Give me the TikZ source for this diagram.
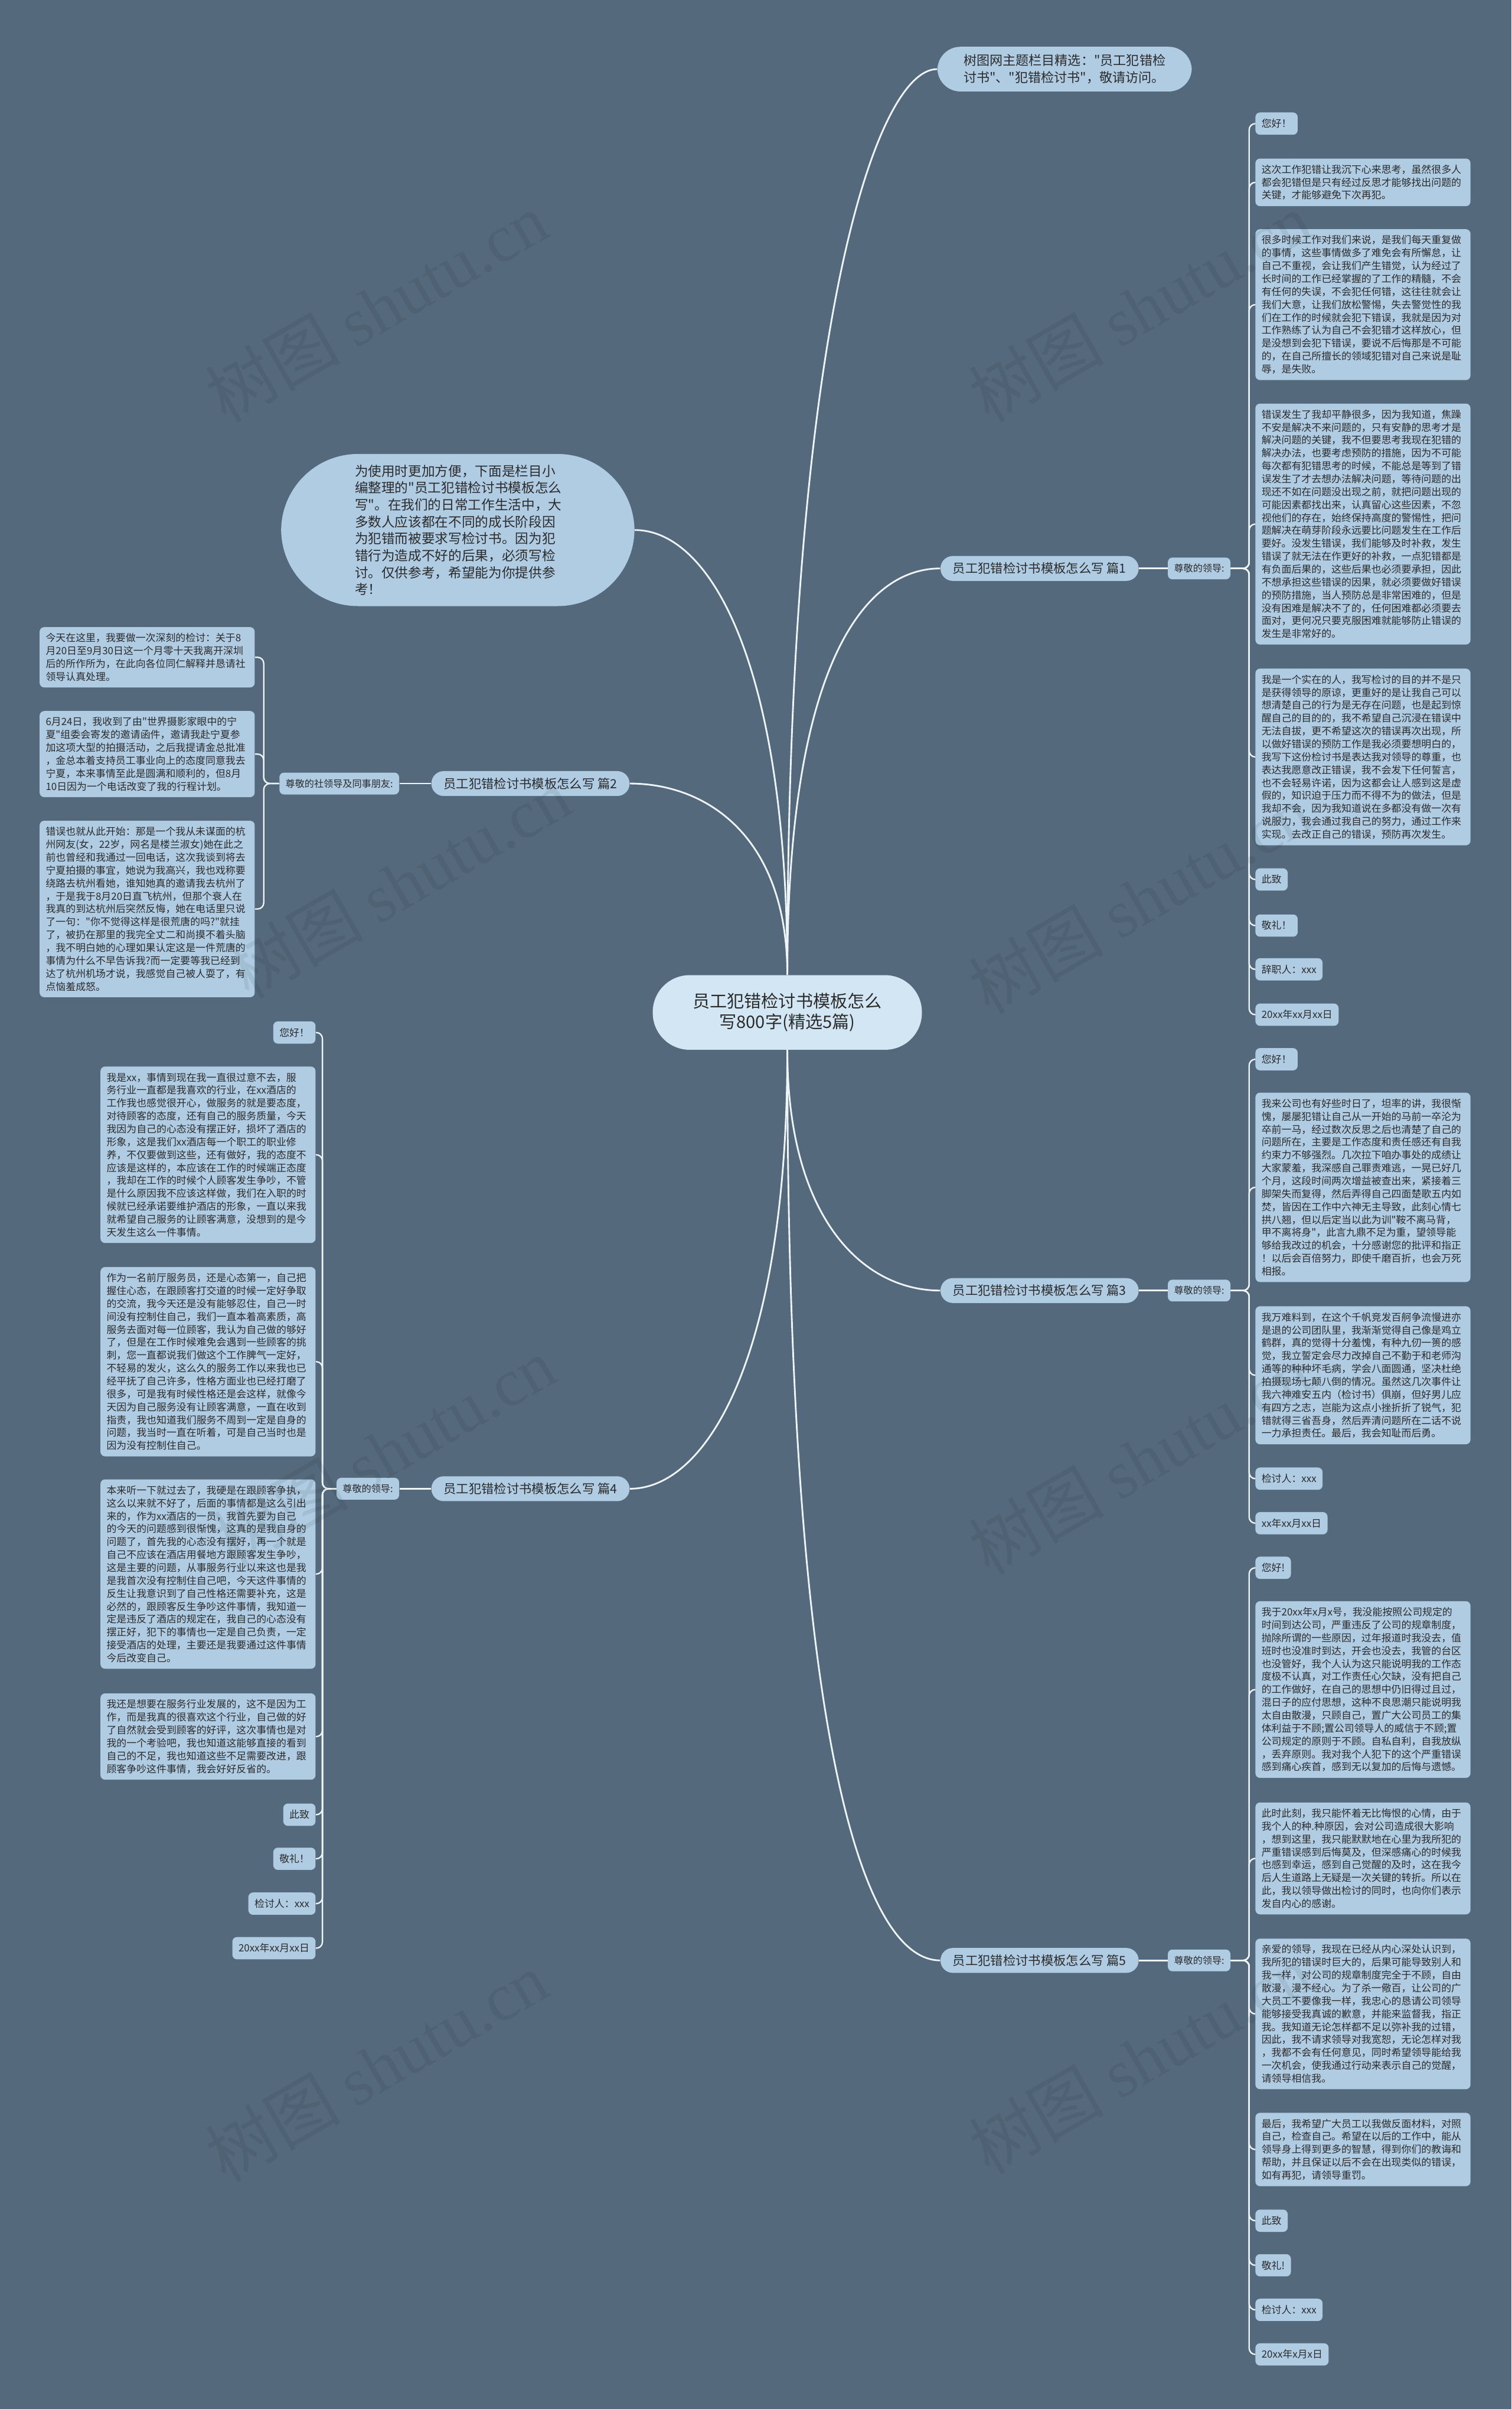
\documentclass[tikz,border=0pt]{standalone}
\usepackage{fontspec}
\newfontfamily\zh{Noto Sans CJK SC}
\newfontfamily\wmlatin{Liberation Serif}

\definecolor{bgc}{HTML}{54697B}
\definecolor{leafc}{HTML}{AFCCE3}
\definecolor{rootc}{HTML}{D2E7F3}
\definecolor{linec}{HTML}{EEF4F8}
\definecolor{inkc}{HTML}{2B2B2B}
\definecolor{wmc}{HTML}{1A2630}

\tikzset{
  trunk/.style={draw=linec, line width=1.1pt},
  spine/.style={draw=linec, line width=0.9pt, rounded corners=4pt},
  leaf/.style={fill=leafc, rounded corners=3pt, text=inkc,
    font=\zh\fontsize{6.5}{8.4}\selectfont, inner xsep=4pt, inner ysep=4pt,
    text width=132pt, align=left},
  tag/.style={fill=leafc, rounded corners=3pt, text=inkc,
    font=\zh\fontsize{6.5}{8.4}\selectfont, inner xsep=4pt, inner ysep=4pt,
    text height=5.7pt, text depth=0.8pt},
  lead/.style={fill=leafc, rounded corners=3pt, text=inkc,
    font=\zh\fontsize{6.2}{7.5}\selectfont, inner sep=4pt,
    text height=5.4pt, text depth=0.8pt},
  part/.style={fill=leafc, rounded corners=8pt, text=inkc,
    font=\zh\fontsize{8.2}{10}\selectfont, inner xsep=8pt, inner ysep=4pt,
    text height=7.2pt, text depth=1pt},
  wmark/.style={text=wmc, text opacity=0.09, rotate=30,
    font=\zh\fontsize{44}{44}\selectfont}
}

\begin{document}
\begin{tikzpicture}[x=1pt,y=-1pt]

  \useasboundingbox (0,0) rectangle (984,1568);
  \fill[bgc] (0,0) rectangle (984,1568);

  % centre, top note and intro
  \node[fill=rootc, rounded corners=24pt, text=inkc, align=center,
    font=\zh\fontsize{11.2}{13.5}\selectfont, inner xsep=26pt, inner ysep=11.7pt]
    at (512.5,659) (root) {员工犯错检讨书模板怎么\\写800字(精选5篇)};
  \node[fill=leafc, rounded corners=15pt, text=inkc, align=left,
    font=\zh\fontsize{8.5}{11}\selectfont, inner xsep=17pt, inner ysep=5pt, anchor=west]
    at (610,45) (tip) {树图网主题栏目精选："员工犯错检\\讨书"、"犯错检讨书"，敬请访问。};
  \node[fill=leafc, rounded corners=50pt, text=inkc, align=left, text width=134pt,
    font=\zh\fontsize{8.7}{11}\selectfont, inner xsep=48pt, inner ysep=7pt]
    at (298,345) (intro) {为使用时更加方便，下面是栏目小\\
      编整理的"员工犯错检讨书模板怎么\\
      写"。在我们的日常工作生活中，大\\
      多数人应该都在不同的成长阶段因\\
      为犯错而被要求写检讨书。因为犯\\
      错行为造成不好的后果，必须写检\\
      讨。仅供参考，希望能为你提供参\\
      考！};

  % branches
  \node[part, anchor=west] at (612,370) (b1) {员工犯错检讨书模板怎么写 篇1};
  \node[part, anchor=east] at (410,510) (b2) {员工犯错检讨书模板怎么写 篇2};
  \node[part, anchor=west] at (612,840) (b3) {员工犯错检讨书模板怎么写 篇3};
  \node[part, anchor=east] at (410,969) (b4) {员工犯错检讨书模板怎么写 篇4};
  \node[part, anchor=west] at (612,1276) (b5) {员工犯错检讨书模板怎么写 篇5};

  \node[lead, anchor=west] at (760,370) (d1) {尊敬的领导:};
  \node[lead, anchor=east] at (260,510) (d2) {尊敬的社领导及同事朋友:};
  \node[lead, anchor=west] at (760,840) (d3) {尊敬的领导:};
  \node[lead, anchor=east] at (260,969) (d4) {尊敬的领导:};
  \node[lead, anchor=west] at (760,1276) (d5) {尊敬的领导:};

  \draw[trunk] (root.north) .. controls +(0,-420) and +(-40,0) .. (tip.west);
  \draw[trunk] (root.north) .. controls +(0,-200) and +(50,0) .. (intro.east);
  \draw[trunk] (root.north) .. controls +(0,-200) and +(-50,0) .. (b1.west);
  \draw[trunk] (root.north) .. controls +(0,-90) and +(50,0) .. (b2.east);
  \draw[trunk] (root.south) .. controls +(0,110) and +(-50,0) .. (b3.west);
  \draw[trunk] (root.south) .. controls +(0,200) and +(50,0) .. (b4.east);
  \draw[trunk] (root.south) .. controls +(0,450) and +(-50,0) .. (b5.west);

  \draw[trunk] (b1.east) -- (d1.west);
  \draw[trunk] (b2.west) -- (d2.east);
  \draw[trunk] (b3.east) -- (d3.west);
  \draw[trunk] (b4.west) -- (d4.east);
  \draw[trunk] (b5.east) -- (d5.west);

  % 篇1
  \node[tag, anchor=north west] at (817,73) (l11) {您好！};
  \node[leaf, anchor=north west] at (817,103) (l12) {这次工作犯错让我沉下心来思考，虽然很多人\\
    都会犯错但是只有经过反思才能够找出问题的\\
    关键，才能够避免下次再犯。};
  \node[leaf, anchor=north west] at (817,149) (l13) {很多时候工作对我们来说，是我们每天重复做\\
    的事情，这些事情做多了难免会有所懈怠，让\\
    自己不重视，会让我们产生错觉，认为经过了\\
    长时间的工作已经掌握的了工作的精髓，不会\\
    有任何的失误，不会犯任何错，这往往就会让\\
    我们大意，让我们放松警惕，失去警觉性的我\\
    们在工作的时候就会犯下错误，我就是因为对\\
    工作熟练了认为自己不会犯错才这样放心，但\\
    是没想到会犯下错误，要说不后悔那是不可能\\
    的，在自己所擅长的领域犯错对自己来说是耻\\
    辱，是失败。};
  \node[leaf, anchor=north west] at (817,262.5) (l14) {错误发生了我却平静很多，因为我知道，焦躁\\
    不安是解决不来问题的，只有安静的思考才是\\
    解决问题的关键，我不但要思考我现在犯错的\\
    解决办法，也要考虑预防的措施，因为不可能\\
    每次都有犯错思考的时候，不能总是等到了错\\
    误发生了才去想办法解决问题，等待问题的出\\
    现还不如在问题没出现之前，就把问题出现的\\
    可能因素都找出来，认真留心这些因素，不忽\\
    视他们的存在，始终保持高度的警惕性，把问\\
    题解决在萌芽阶段永远要比问题发生在工作后\\
    要好。没发生错误，我们能够及时补救，发生\\
    错误了就无法在作更好的补救，一点犯错都是\\
    有负面后果的，这些后果也必须要承担，因此\\
    不想承担这些错误的因果，就必须要做好错误\\
    的预防措施，当人预防总是非常困难的，但是\\
    没有困难是解决不了的，任何困难都必须要去\\
    面对，更何况只要克服困难就能够防止错误的\\
    发生是非常好的。};
  \node[leaf, anchor=north west] at (817,435) (l15) {我是一个实在的人，我写检讨的目的并不是只\\
    是获得领导的原谅，更重好的是让我自己可以\\
    想清楚自己的行为是无存在问题，也是起到惊\\
    醒自己的目的的，我不希望自己沉浸在错误中\\
    无法自拔，更不希望这次的错误再次出现，所\\
    以做好错误的预防工作是我必须要想明白的，\\
    我写下这份检讨书是表达我对领导的尊重，也\\
    表达我愿意改正错误，我不会发下任何誓言，\\
    也不会轻易许诺，因为这都会让人感到这是虚\\
    假的，知识迫于压力而不得不为的做法，但是\\
    我却不会，因为我知道说在多都没有做一次有\\
    说服力，我会通过我自己的努力，通过工作来\\
    实现。去改正自己的错误，预防再次发生。};
  \node[tag, anchor=north west] at (817,565) (l16) {此致};
  \node[tag, anchor=north west] at (817,595) (l17) {敬礼！};
  \node[tag, anchor=north west] at (817,623.5) (l18) {辞职人：xxx};
  \node[tag, anchor=north west] at (817,653) (l19) {20xx年xx月xx日};

  \draw[spine] (d1.east) -- ++(12,0) |- (l11.west);
  \draw[spine] (d1.east) -- ++(12,0) |- (l12.west);
  \draw[spine] (d1.east) -- ++(12,0) |- (l13.west);
  \draw[spine] (d1.east) -- ++(12,0) |- (l14.west);
  \draw[spine] (d1.east) -- ++(12,0) |- (l15.west);
  \draw[spine] (d1.east) -- ++(12,0) |- (l16.west);
  \draw[spine] (d1.east) -- ++(12,0) |- (l17.west);
  \draw[spine] (d1.east) -- ++(12,0) |- (l18.west);
  \draw[spine] (d1.east) -- ++(12,0) |- (l19.west);

  % 篇2
  \node[leaf, anchor=north east] at (166,408) (l21) {今天在这里，我要做一次深刻的检讨：关于8\\
    月20日至9月30日这一个月零十天我离开深圳\\
    后的所作所为，在此向各位同仁解释并恳请社\\
    领导认真处理。};
  \node[leaf, anchor=north east] at (166,462.6) (l22) {6月24日，我收到了由"世界摄影家眼中的宁\\
    夏"组委会寄发的邀请函件，邀请我赴宁夏参\\
    加这项大型的拍摄活动，之后我提请金总批准\\
    ，金总本着支持员工事业向上的态度同意我去\\
    宁夏，本来事情至此是圆满和顺利的，但8月\\
    10日因为一个电话改变了我的行程计划。};
  \node[leaf, anchor=north east] at (166,534) (l23) {错误也就从此开始：那是一个我从未谋面的杭\\
    州网友(女，22岁，网名是楼兰淑女)她在此之\\
    前也曾经和我通过一回电话，这次我谈到将去\\
    宁夏拍摄的事宜，她说为我高兴，我也戏称要\\
    绕路去杭州看她，谁知她真的邀请我去杭州了\\
    ，于是我于8月20日直飞杭州，但那个衰人在\\
    我真的到达杭州后突然反悔，她在电话里只说\\
    了一句："你不觉得这样是很荒唐的吗?"就挂\\
    了，被扔在那里的我完全丈二和尚摸不着头脑\\
    ，我不明白她的心理如果认定这是一件荒唐的\\
    事情为什么不早告诉我?而一定要等我已经到\\
    达了杭州机场才说，我感觉自己被人耍了，有\\
    点恼羞成怒。};

  \draw[spine] (d2.west) -- ++(-10,0) |- (l21.east);
  \draw[spine] (d2.west) -- ++(-10,0) |- (l22.east);
  \draw[spine] (d2.west) -- ++(-10,0) |- (l23.east);

  % 篇3
  \node[tag, anchor=north west] at (817,682) (l31) {您好！};
  \node[leaf, anchor=north west] at (817,711) (l32) {我来公司也有好些时日了，坦率的讲，我很惭\\
    愧，屡屡犯错让自己从一开始的马前一卒沦为\\
    卒前一马，经过数次反思之后也清楚了自己的\\
    问题所在，主要是工作态度和责任感还有自我\\
    约束力不够强烈。几次拉下咱办事处的成绩让\\
    大家蒙羞，我深感自己罪责难逃，一晃已好几\\
    个月，这段时间两次增益被查出来，紧接着三\\
    脚架失而复得，然后弄得自己四面楚歌五内如\\
    焚，皆因在工作中六神无主导致，此刻心情七\\
    拱八翘，但以后定当以此为训"鞍不离马背，\\
    甲不离将身"，此言九鼎不足为重，望领导能\\
    够给我改过的机会，十分感谢您的批评和指正\\
    ！以后会百倍努力，即使千磨百折，也会万死\\
    相报。};
  \node[leaf, anchor=north west] at (817,850) (l33) {我万难料到，在这个千帆竞发百舸争流慢进亦\\
    是退的公司团队里，我渐渐觉得自己像是鸡立\\
    鹤群，真的觉得十分羞愧，有种九仞一篑的感\\
    觉，我立誓定会尽力改掉自己不勤于和老师沟\\
    通等的种种坏毛病，学会八面圆通，坚决杜绝\\
    拍摄现场七颠八倒的情况。虽然这几次事件让\\
    我六神难安五内（检讨书）俱崩，但好男儿应\\
    有四方之志，岂能为这点小挫折折了锐气，犯\\
    错就得三省吾身，然后弄清问题所在二话不说\\
    一力承担责任。最后，我会知耻而后勇。};
  \node[tag, anchor=north west] at (817,955) (l34) {检讨人：xxx};
  \node[tag, anchor=north west] at (817,984) (l35) {xx年xx月xx日};

  \draw[spine] (d3.east) -- ++(12,0) |- (l31.west);
  \draw[spine] (d3.east) -- ++(12,0) |- (l32.west);
  \draw[spine] (d3.east) -- ++(12,0) |- (l33.west);
  \draw[spine] (d3.east) -- ++(12,0) |- (l34.west);
  \draw[spine] (d3.east) -- ++(12,0) |- (l35.west);

  % 篇4
  \node[tag, anchor=north east] at (205.6,664.6) (l41) {您好！};
  \node[leaf, anchor=north east] at (205.6,694) (l42) {我是xx，事情到现在我一直很过意不去，服\\
    务行业一直都是我喜欢的行业，在xx酒店的\\
    工作我也感觉很开心，做服务的就是要态度，\\
    对待顾客的态度，还有自己的服务质量，今天\\
    我因为自己的心态没有摆正好，损坏了酒店的\\
    形象，这是我们xx酒店每一个职工的职业修\\
    养，不仅要做到这些，还有做好，我的态度不\\
    应该是这样的，本应该在工作的时候端正态度\\
    ，我却在工作的时候个人顾客发生争吵，不管\\
    是什么原因我不应该这样做，我们在入职的时\\
    候就已经承诺要维护酒店的形象，一直以来我\\
    就希望自己服务的让顾客满意，没想到的是今\\
    天发生这么一件事情。};
  \node[leaf, anchor=north east] at (205.6,824.5) (l43) {作为一名前厅服务员，还是心态第一，自己把\\
    握住心态，在跟顾客打交道的时候一定好争取\\
    的交流，我今天还是没有能够忍住，自己一时\\
    间没有控制住自己，我们一直本着高素质，高\\
    服务去面对每一位顾客，我认为自己做的够好\\
    了，但是在工作时候难免会遇到一些顾客的挑\\
    刺，您一直都说我们做这个工作脾气一定好，\\
    不轻易的发火，这么久的服务工作以来我也已\\
    经平抚了自己许多，性格方面业也已经打磨了\\
    很多，可是我有时候性格还是会这样，就像今\\
    天因为自己服务没有让顾客满意，一直在收到\\
    指责，我也知道我们服务不周到一定是自身的\\
    问题，我当时一直在听着，可是自己当时也是\\
    因为没有控制住自己。};
  \node[leaf, anchor=north east] at (205.6,962.7) (l44) {本来听一下就过去了，我硬是在跟顾客争执，\\
    这么以来就不好了，后面的事情都是这么引出\\
    来的，作为xx酒店的一员，我首先要为自己\\
    的今天的问题感到很惭愧，这真的是我自身的\\
    问题了，首先我的心态没有摆好，再一个就是\\
    自己不应该在酒店用餐地方跟顾客发生争吵，\\
    这是主要的问题，从事服务行业以来这也是我\\
    是我首次没有控制住自己吧，今天这件事情的\\
    反生让我意识到了自己性格还需要补充，这是\\
    必然的，跟顾客反生争吵这件事情，我知道一\\
    定是违反了酒店的规定在，我自己的心态没有\\
    摆正好，犯下的事情也一定是自己负责，一定\\
    接受酒店的处理，主要还是我要通过这件事情\\
    今后改变自己。};
  \node[leaf, anchor=north east] at (205.6,1102) (l45) {我还是想要在服务行业发展的，这不是因为工\\
    作，而是我真的很喜欢这个行业，自己做的好\\
    了自然就会受到顾客的好评，这次事情也是对\\
    我的一个考验吧，我也知道这能够直接的看到\\
    自己的不足，我也知道这些不足需要改进，跟\\
    顾客争吵这件事情，我会好好反省的。};
  \node[tag, anchor=north east] at (205.6,1173.7) (l46) {此致};
  \node[tag, anchor=north east] at (205.6,1202.4) (l47) {敬礼！};
  \node[tag, anchor=north east] at (205.6,1231.6) (l48) {检讨人：xxx};
  \node[tag, anchor=north east] at (205.6,1260.6) (l49) {20xx年xx月xx日};

  \draw[spine] (d4.west) -- ++(-9,0) |- (l41.east);
  \draw[spine] (d4.west) -- ++(-9,0) |- (l42.east);
  \draw[spine] (d4.west) -- ++(-9,0) |- (l43.east);
  \draw[spine] (d4.west) -- ++(-9,0) |- (l44.east);
  \draw[spine] (d4.west) -- ++(-9,0) |- (l45.east);
  \draw[spine] (d4.west) -- ++(-9,0) |- (l46.east);
  \draw[spine] (d4.west) -- ++(-9,0) |- (l47.east);
  \draw[spine] (d4.west) -- ++(-9,0) |- (l48.east);
  \draw[spine] (d4.west) -- ++(-9,0) |- (l49.east);

  % 篇5
  \node[tag, anchor=north west] at (817,1013) (l51) {您好!};
  \node[leaf, anchor=north west] at (817,1042) (l52) {我于20xx年x月x号，我没能按照公司规定的\\
    时间到达公司，严重违反了公司的规章制度，\\
    抛除所谓的一些原因，过年报道时我没去，值\\
    班时也没准时到达，开会也没去，我管的台区\\
    也没管好，我个人认为这只能说明我的工作态\\
    度极不认真，对工作责任心欠缺，没有把自己\\
    的工作做好，在自己的思想中仍旧得过且过，\\
    混日子的应付思想，这种不良思潮只能说明我\\
    太自由散漫，只顾自己，置广大公司员工的集\\
    体利益于不顾;置公司领导人的威信于不顾;置\\
    公司规定的原则于不顾。自私自利，自我放纵\\
    ，丢弃原则。我对我个人犯下的这个严重错误\\
    感到痛心疾首，感到无以复加的后悔与遗憾。};
  \node[leaf, anchor=north west] at (817,1173) (l53) {此时此刻，我只能怀着无比悔恨的心情，由于\\
    我个人的种.种原因，会对公司造成很大影响\\
    ，想到这里，我只能默默地在心里为我所犯的\\
    严重错误感到后悔莫及，但深感痛心的时候我\\
    也感到幸运，感到自己觉醒的及时，这在我今\\
    后人生道路上无疑是一次关键的转折。所以在\\
    此，我以领导做出检讨的同时，也向你们表示\\
    发自内心的感谢。};
  \node[leaf, anchor=north west] at (817,1261.6) (l54) {亲爱的领导，我现在已经从内心深处认识到，\\
    我所犯的错误时巨大的，后果可能导致别人和\\
    我一样，对公司的规章制度完全于不顾，自由\\
    散漫，漫不经心。为了杀一儆百，让公司的广\\
    大员工不要像我一样，我忠心的恳请公司领导\\
    能够接受我真诚的歉意，并能来监督我，指正\\
    我。我知道无论怎样都不足以弥补我的过错，\\
    因此，我不请求领导对我宽恕，无论怎样对我\\
    ，我都不会有任何意见，同时希望领导能给我\\
    一次机会，使我通过行动来表示自己的觉醒，\\
    请领导相信我。};
  \node[leaf, anchor=north west] at (817,1375) (l55) {最后，我希望广大员工以我做反面材料，对照\\
    自己，检查自己。希望在以后的工作中，能从\\
    领导身上得到更多的智慧，得到你们的教诲和\\
    帮助，并且保证以后不会在出现类似的错误，\\
    如有再犯，请领导重罚。};
  \node[tag, anchor=north west] at (817,1438) (l56) {此致};
  \node[tag, anchor=north west] at (817,1467) (l57) {敬礼!};
  \node[tag, anchor=north west] at (817,1496) (l58) {检讨人：xxx};
  \node[tag, anchor=north west] at (817,1525) (l59) {20xx年x月x日};

  \draw[spine] (d5.east) -- ++(12,0) |- (l51.west);
  \draw[spine] (d5.east) -- ++(12,0) |- (l52.west);
  \draw[spine] (d5.east) -- ++(12,0) |- (l53.west);
  \draw[spine] (d5.east) -- ++(12,0) |- (l54.west);
  \draw[spine] (d5.east) -- ++(12,0) |- (l55.west);
  \draw[spine] (d5.east) -- ++(12,0) |- (l56.west);
  \draw[spine] (d5.east) -- ++(12,0) |- (l57.west);
  \draw[spine] (d5.east) -- ++(12,0) |- (l58.west);
  \draw[spine] (d5.east) -- ++(12,0) |- (l59.west);

  % watermark
  \node[wmark] at (245,200) (w1) {树图 {\wmlatin shutu.cn}};
  \node[wmark] at (742,200) (w2) {树图 {\wmlatin shutu.cn}};
  \node[wmark] at (260,575) (w3) {树图 {\wmlatin shutu.cn}};
  \node[wmark] at (742,585) (w4) {树图 {\wmlatin shutu.cn}};
  \node[wmark] at (250,945) (w5) {树图 {\wmlatin shutu.cn}};
  \node[wmark] at (742,950) (w6) {树图 {\wmlatin shutu.cn}};
  \node[wmark] at (245,1345) (w7) {树图 {\wmlatin shutu.cn}};
  \node[wmark] at (742,1340) (w8) {树图 {\wmlatin shutu.cn}};

\end{tikzpicture}
\end{document}
